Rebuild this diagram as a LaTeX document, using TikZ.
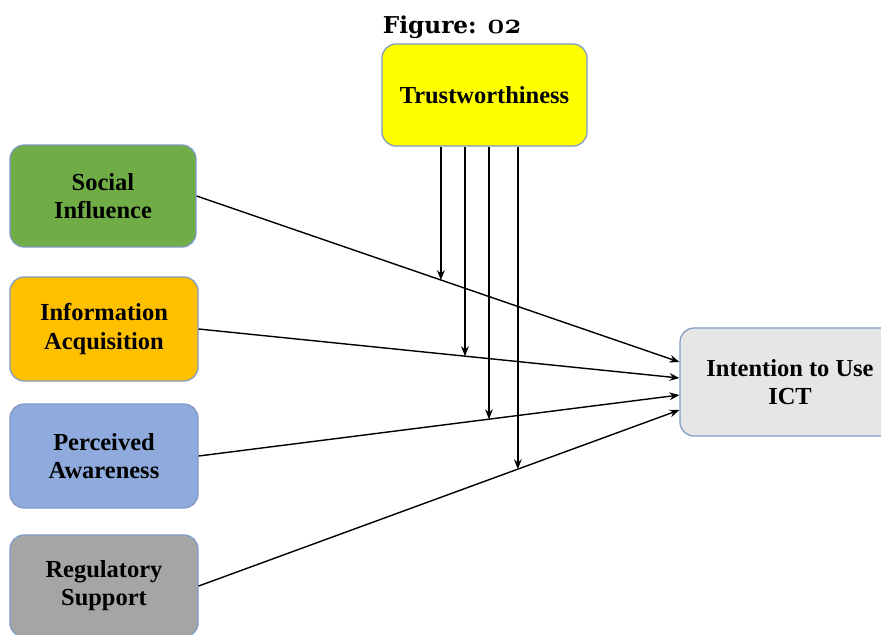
\documentclass[tikz,border=0pt]{standalone}
\usepackage{fontspec}
\newfontfamily\boxfont{Liberation Serif}
\newfontfamily\titlefont{DejaVu Serif}
\usepackage{xcolor}
\usetikzlibrary{positioning, arrows.meta}

\definecolor{edgeblue}{HTML}{7F9BC6}
\definecolor{trustyellow}{HTML}{FFFF00}
\definecolor{socgreen}{HTML}{70AD47}
\definecolor{infoorange}{HTML}{FFC000}
\definecolor{percblue}{HTML}{8FAADC}
\definecolor{reggray}{HTML}{A5A5A5}
\definecolor{ictgray}{HTML}{E7E6E6}

\begin{document}
\begin{tikzpicture}[
    x=0.025cm, y=-0.025cm,
    % Base style for all boxes
    basebox/.style={rectangle, rounded corners=10pt, draw=edgeblue, line width=0.9pt,
        align=center, inner sep=2pt, minimum width=4.7cm, minimum height=2.6cm,
        font=\boxfont\bfseries\fontsize{17.4}{20}\selectfont},
    % Title
    titletext/.style={font=\titlefont\bfseries\fontsize{16.5}{20}\selectfont},
    % Arrow style
    arrow/.style={-{Stealth[length=7pt, width=5.5pt]}, line width=1pt},
]
\useasboundingbox (0,0) rectangle (881,634);

% Title and moderator
\node[titletext] (title) at (452,27) {Figure: {\fontsize{20}{20}\selectfont\boldmath$\mathnormal{02}$}};
\node[basebox, fill=trustyellow, minimum width=5.125cm, minimum height=2.55cm] (trust) at (484.5,95) {Trustworthiness};

% Left column: predictors
\node[basebox, fill=socgreen, minimum width=4.65cm, minimum height=2.55cm] (soc) at (103,196) {Social\\Influence};
\node[basebox, fill=infoorange] (info) at (104,329) {Information\\Acquisition};
\node[basebox, fill=percblue] (perc) at (104,456) {Perceived\\Awareness};
\node[basebox, fill=reggray, minimum height=2.55cm] (reg) at (104,586) {Regulatory\\Support};

% Outcome
\node[basebox, fill=ictgray, minimum width=5.5cm, minimum height=2.7cm] (ict) at (790,382) {Intention to Use\\ICT};

% Ends on the outcome box
\coordinate (in1) at ([yshift=0.5cm]ict.west);
\coordinate (in2) at ([yshift=0.1cm]ict.west);
\coordinate (in3) at ([yshift=-0.325cm]ict.west);
\coordinate (in4) at ([yshift=-0.7cm]ict.west);

% Main paths
\draw[arrow] (soc.east) -- (in1);
\draw[arrow] (info.east) -- (in2);
\draw[arrow] (perc.east) -- (in3);
\draw[arrow] (reg.east) -- (in4);

% Moderation points on the paths
\path (soc.east) -- (in1) coordinate[pos=0.506] (m1);
\path (info.east) -- (in2) coordinate[pos=0.554] (m2);
\path (perc.east) -- (in3) coordinate[pos=0.604] (m3);
\path (reg.east) -- (in4) coordinate[pos=0.664] (m4);

% Moderator arrows
\draw[arrow] (trust.south -| m1) -- (m1);
\draw[arrow] (trust.south -| m2) -- (m2);
\draw[arrow] (trust.south -| m3) -- (m3);
\draw[arrow] (trust.south -| m4) -- (m4);

\end{tikzpicture}
\end{document}
